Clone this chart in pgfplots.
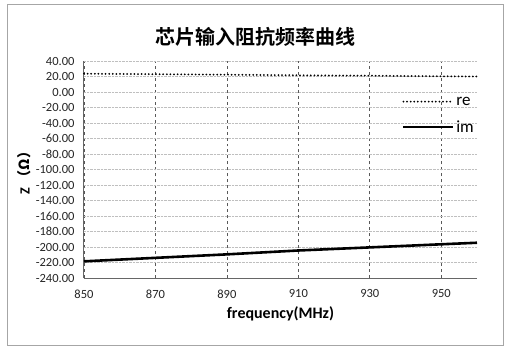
\documentclass[border=0pt]{standalone}
\usepackage{pgfplots}
\pgfplotsset{compat=1.18}
\usepackage{fontspec}
\setmainfont{Carlito}
\newfontfamily\cjk{Noto Sans CJK SC}
\newfontfamily\cjkb{Noto Sans CJK SC Bold}
\begin{document}
\begin{tikzpicture}
\path[use as bounding box, fill=white] (-84bp,-73bp) rectangle (425bp,278bp);
\draw[gray!70, line width=1bp] (-76bp,-67bp) rectangle (419bp,273bp);
\begin{axis}[
  at={(0,0)}, anchor=south west,
  scale only axis, width=393bp, height=217bp,
  xmin=850, xmax=960, ymin=-240, ymax=40,
  xtick={850,870,...,950},
  ytick={-240,-220,...,40},
  axis x line*=bottom, axis y line*=left,
  axis line style={gray!80!black, line width=1bp, -},
  major tick length=0pt,
  xmajorgrids, ymajorgrids,
  x grid style={gray!70!black, dashed, line width=0.8bp},
  y grid style={gray!50, densely dotted, line width=0.5bp},
  yticklabel={\pgfmathprintnumber[fixed, fixed zerofill, precision=2]{\tick}},
  xticklabel={\pgfmathprintnumber[fixed, precision=0, 1000 sep={}]{\tick}},
  /pgf/number format/assume math mode=true,
  tick label style={font=\fontsize{12.5bp}{13bp}\selectfont, black!85},
  xticklabel style={yshift=-8bp},
  yticklabel style={xshift=-6bp},
  xlabel={\bfseries frequency(MHz)},
  xlabel style={font=\fontsize{16bp}{17bp}\selectfont, yshift=-2bp},
  ylabel={\bfseries Z {\cjkb （Ω）}},
  ylabel style={font=\fontsize{14bp}{15bp}\selectfont, yshift=-2bp},
  legend style={at={(1,0.85)}, anchor=north east, draw=none, fill=none,
    font=\fontsize{17bp}{18bp}\selectfont, row sep=10bp, inner sep=1bp},
  legend cell align=left,
  legend image code/.code={\draw[#1] (0cm,0cm) -- (1.75cm,0cm);},
  clip=false,
]
\addplot[black, line width=2bp, line cap=round, dash pattern=on 0pt off 3.6bp] coordinates {
(850,23.6) (870,23.0) (890,22.3) (910,21.6) (930,21.0) (950,20.3) (960,20.0)};
\addlegendentry{re}
\addplot[black, line width=2.6bp] coordinates {
(850,-218.5) (870,-214) (890,-209.5) (910,-204.5) (930,-200.5) (950,-196.5) (960,-194.5)};
\addlegendentry{im}
\end{axis}
\node[font=\cjkb\fontsize{20bp}{21bp}\selectfont] at (171bp,241bp) {芯片输入阻抗频率曲线};
\end{tikzpicture}
\end{document}
